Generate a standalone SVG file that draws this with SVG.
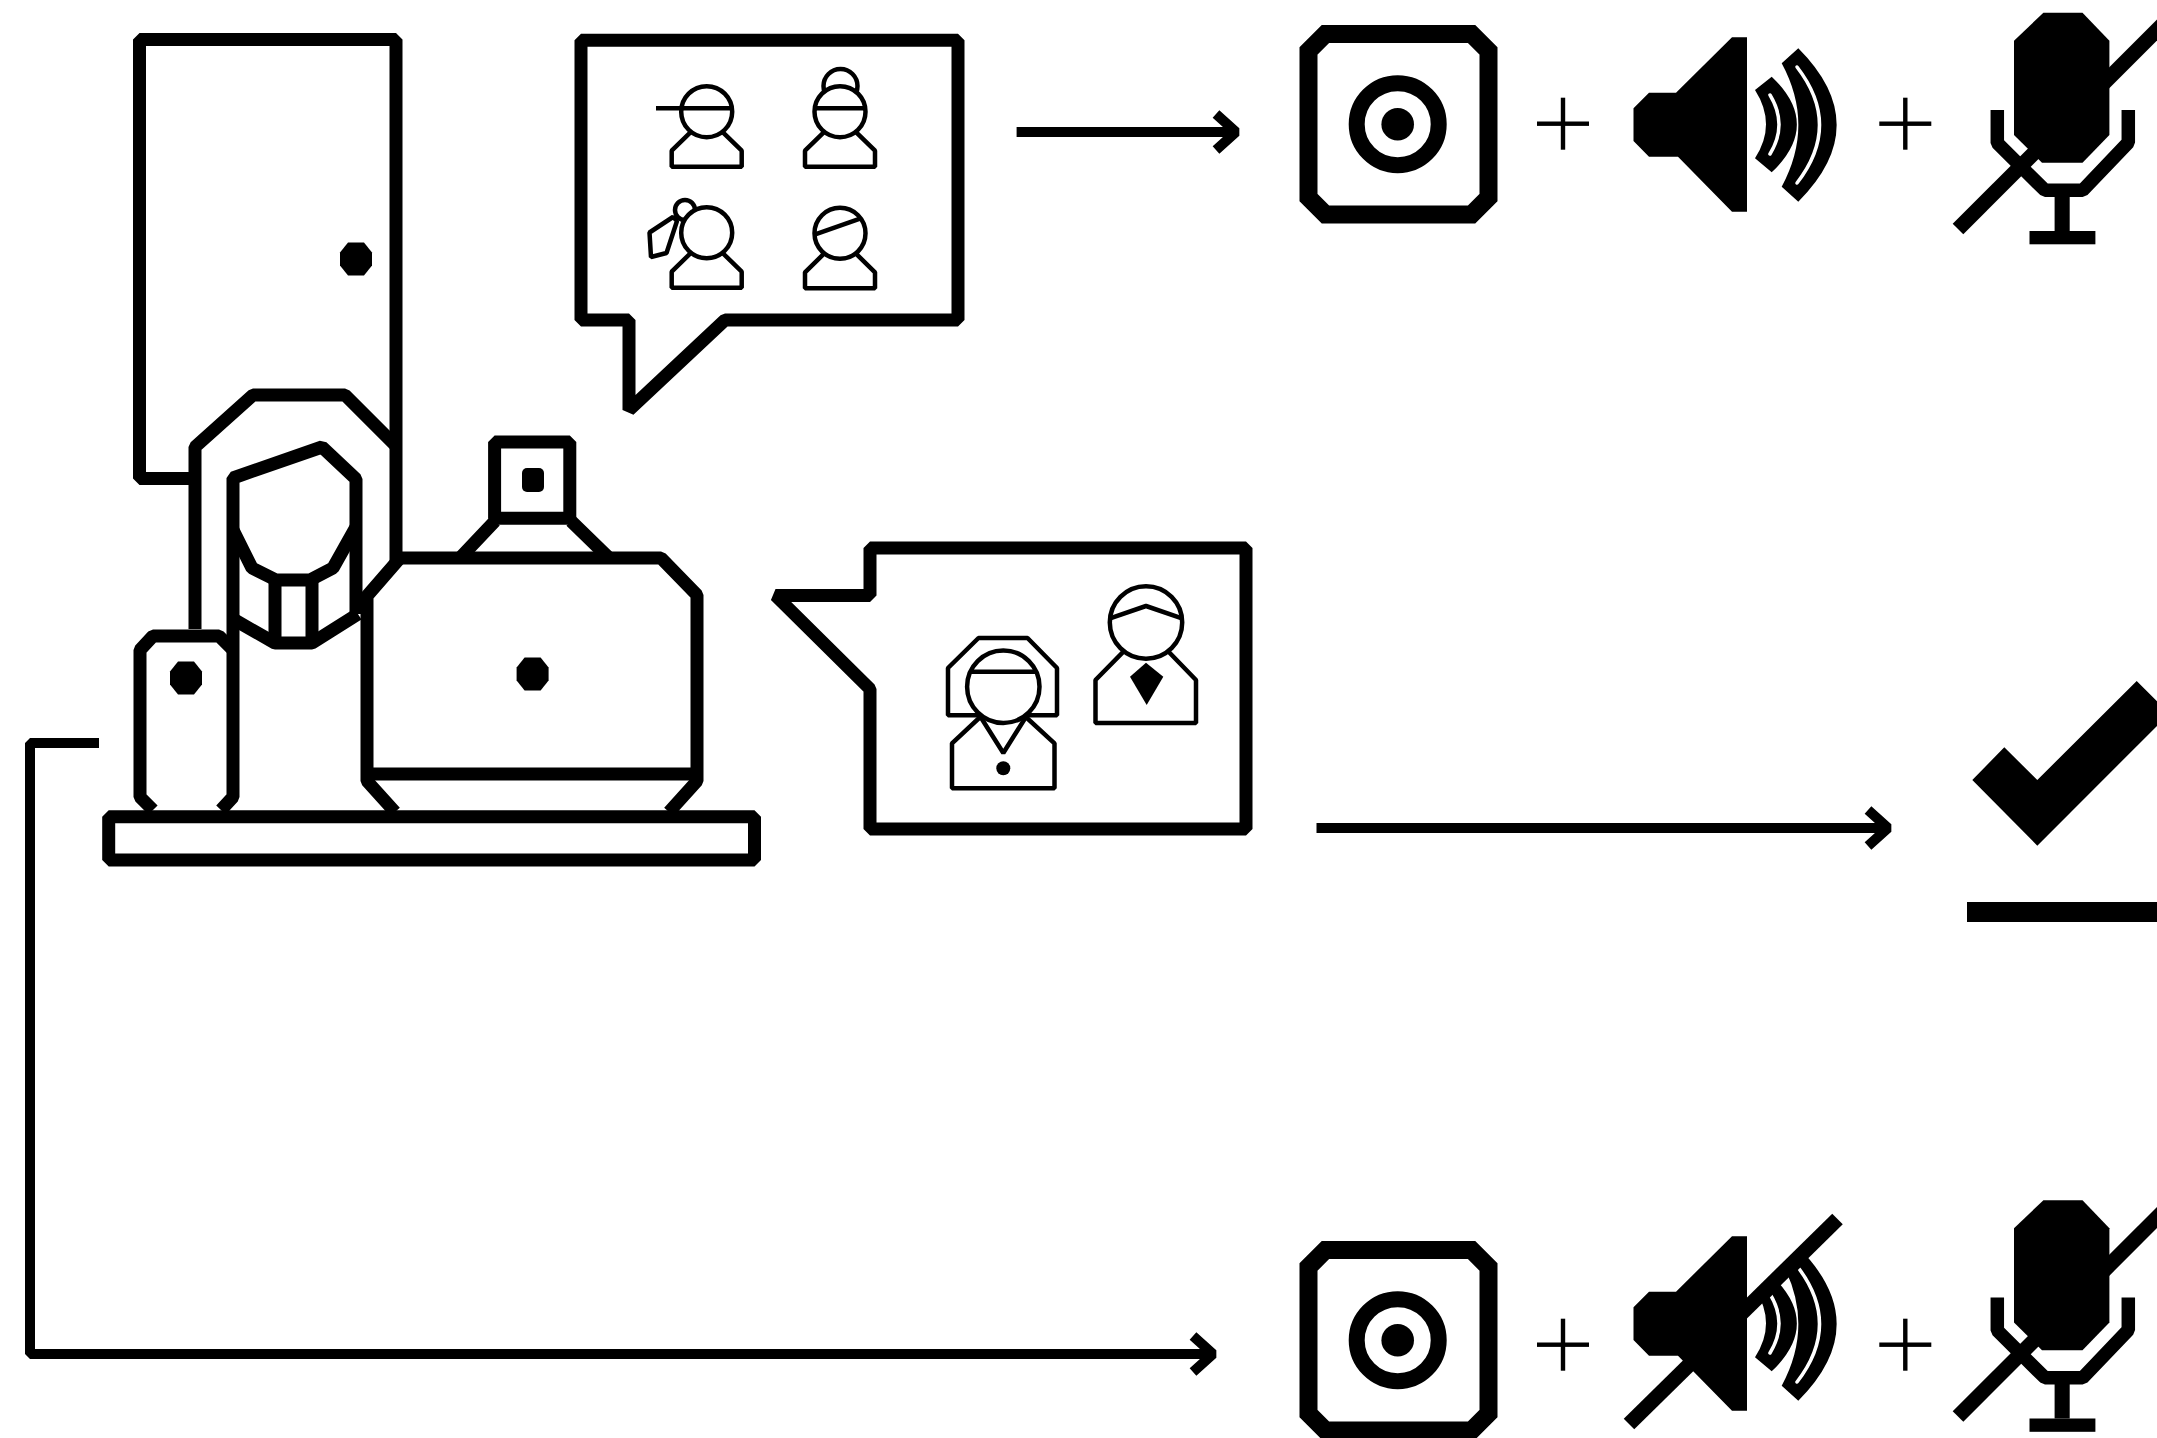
<svg xmlns="http://www.w3.org/2000/svg" xmlns:xlink="http://www.w3.org/1999/xlink" width="2157" height="1438" viewBox="0 0 2157 1438">
<style>
.k{fill:none;stroke:#000;stroke-width:13;stroke-linejoin:bevel;stroke-linecap:butt}
.t{fill:#fff;stroke:#000;stroke-width:4.5;stroke-linejoin:bevel}
.tl{fill:none;stroke:#000;stroke-width:4.5;stroke-linejoin:bevel}
.f{fill:#000;stroke:none}
.conn{fill:none;stroke:#000;stroke-width:10;stroke-linejoin:bevel}
.slash{stroke:#000;stroke-width:15;stroke-linecap:butt}
.slit{fill:none;stroke:#fff;stroke-width:3.5;stroke-linecap:round}
</style>
<defs>
  <!-- small octagonal dot (knobs, buttons) -->
  <path id="oct" class="f" d="M-8,-16.5 L8,-16.5 L16,-6.5 L16,6.5 L8,16.5 L-8,16.5 L-16,6.5 L-16,-6.5 Z"/>
  <!-- open chevron arrowhead -->
  <marker id="chev" markerUnits="userSpaceOnUse" viewBox="-25 -25 30 50" markerWidth="30" markerHeight="50" refX="0" refY="0" orient="auto" overflow="visible">
    <path d="M-20,-18 L0,0 L-20,18" fill="none" stroke="#000" stroke-width="10" stroke-linejoin="bevel"/>
  </marker>
  <!-- participant bust, head centred on origin -->
  <g id="bust">
    <path class="t" d="M-14.2,18.6 L-35,39 L-35,55 L35,55 L35,39 L14.2,18.6"/>
    <circle class="t" cx="0" cy="0" r="25.5"/>
  </g>
  <!-- camera / screen tile -->
  <g id="cam-tile">
    <path d="M1325.5,34 L1471.5,34 L1488.5,51 L1488.5,197.5 L1471.5,214.5 L1325.5,214.5 L1308.5,197.5 L1308.5,51 Z" fill="none" stroke="#000" stroke-width="18"/>
    <circle cx="1397.7" cy="124.2" r="41" fill="none" stroke="#000" stroke-width="16"/>
    <circle cx="1397.7" cy="124.2" r="16.3" class="f"/>
  </g>
  <!-- loudspeaker -->
  <polygon id="spk-body" class="f" points="1633.5,108.3 1649,92.7 1676,92.7 1732,37.3 1747,37.3 1747,211.7 1732,211.7 1678,156.7 1649,156.7 1633.5,141"/>
  <g id="spk-waves">
    <path class="f" d="M1755,90 L1771.7,76.7 Q1822,124.5 1771.7,172.3 L1755,158.3 Q1777,124.5 1755,90 Z"/>
    <path class="f" d="M1781.7,63.3 L1798.3,48.3 Q1875,125 1798.3,201.7 L1781.7,186.7 Q1815,125 1781.7,63.3 Z"/>
  </g>
  <g id="spk-slits">
    <path class="slit" d="M1770,95 Q1788,124.5 1770,154"/>
    <path class="slit" d="M1797,67 Q1842,125 1797,183"/>
  </g>
  <!-- muted microphone -->
  <g id="mic-muted">
    <polygon class="f" points="2043.4,12.7 2082.5,12.7 2109.4,40.7 2109.4,135 2082.5,162.7 2042,162.7 2014,135 2014,40.7"/>
    <path d="M1997.3,110 L1997.3,143 L2045,190.3 L2082.6,190.3 L2128.3,142.5 L2128.3,110" fill="none" stroke="#000" stroke-width="13.5" stroke-linejoin="bevel"/>
    <rect class="f" x="2054.6" y="190" width="15.1" height="41"/>
    <rect class="f" x="2029.5" y="231" width="65.9" height="13.3"/>
    <line class="slash" x1="1958" y1="229" x2="2185" y2="2"/>
  </g>
  <!-- plus sign centred on origin -->
  <g id="plus">
    <rect class="f" x="-26" y="-2.2" width="52" height="4.4"/>
    <rect class="f" x="-2.2" y="-26" width="4.4" height="52"/>
  </g>
  <clipPath id="waveclip"><polygon points="1740,115.9 1900,-41.4 1900,260 1740,260"/></clipPath>
  <clipPath id="slitclip"><polygon points="1740,127.9 1900,-29.4 1900,260 1740,260"/></clipPath>
</defs>

<rect width="2157" height="1438" fill="#fff"/>

<!-- home office: door, person in hood, laptop with webcam, desk -->
<g id="remote-worker">
  <path class="k" d="M195,478.5 L139.5,478.5 L139.5,39.5 L396,39.5 L396,561"/>
  <use xlink:href="#oct" href="#oct" x="356" y="259"/>
  <path class="k" d="M195,629 L195,447 L253,395 L345,395 L396,446"/>
  <path class="k" d="M221,810 L233,797 L233,478 L322,447 L356,479 L356,614"/>
  <path class="k" d="M233,530 L252,568 L276,580 L310,580 L333,568 L356,527"/>
  <path class="k" d="M275,580 L275,643 M312,580 L312,643"/>
  <path class="k" d="M233,619 L275,643 L312,643 L358,614"/>
  <path class="k" d="M153,810 L140,797 L140,650 L153,636 L219,636 L233,650"/>
  <use xlink:href="#oct" href="#oct" x="186" y="678"/>
  <path class="k" d="M396,558 L661,558 L697,595 L697,781 L669,812"/>
  <path class="k" d="M400,558 L367,596 L367,781 L395,812"/>
  <path class="k" d="M367,774 L697,774"/>
  <path class="k" d="M494.6,442 L569.8,442 L569.8,518.3 L494.6,518.3 Z"/>
  <path class="k" d="M495,521 L460,558 M571,521 L609,558"/>
  <rect class="f" x="522" y="468" width="22" height="24" rx="5"/>
  <use xlink:href="#oct" href="#oct" x="532.6" y="674"/>
  <path class="k" d="M108.7,816.7 L754.5,816.7 L754.5,860 L108.7,860 Z"/>
</g>

<!-- speech bubble: group call with four participants -->
<g id="bubble-group-call">
  <path class="k" d="M581,40.3 L958,40.3 L958,320 L725,320 L629,410 L629,320 L581,320 Z"/>
  <use xlink:href="#bust" href="#bust" x="706.7" y="111.7"/>
  <line class="tl" x1="656" y1="108.3" x2="732" y2="108.3"/>
  <circle class="t" cx="840.5" cy="86" r="17"/>
  <use xlink:href="#bust" href="#bust" x="840" y="111.7"/>
  <line class="tl" x1="814.7" y1="108.3" x2="865.3" y2="108.3"/>
  <polygon class="t" points="673,217 649.5,232.5 651,257 666.5,253 677,221"/>
  <circle class="t" cx="685" cy="210" r="10"/>
  <use xlink:href="#bust" href="#bust" x="706.7" y="232.7"/>
  <use xlink:href="#bust" href="#bust" x="840" y="233.3"/>
  <line class="tl" x1="814.5" y1="234.6" x2="860.1" y2="218.7"/>
</g>

<!-- speech bubble: nurse and doctor -->
<g id="bubble-care-team">
  <path class="k" d="M870,548 L1246,548 L1246,829 L870,829 L870,689 L775.5,595.5 L870,595.5 Z"/>
  <path class="t" d="M948,715.3 L948,668 L978.5,638 L1027.5,638 L1057,668 L1057,715.3 Z"/>
  <path class="t" d="M984.5,713 L952,743.3 L952,788.3 L1054.5,788.3 L1054.5,743.3 L1021.5,713"/>
  <circle class="t" cx="1003.3" cy="686.7" r="36.2"/>
  <line class="tl" x1="970.4" y1="671.7" x2="1036.2" y2="671.7"/>
  <path class="tl" d="M980,716 L1003.3,753 L1026.5,716"/>
  <circle class="f" cx="1003.3" cy="768.3" r="7"/>
  <path class="t" d="M1129.6,645.3 L1095.5,680 L1095.5,723 L1196,723 L1196,680 L1162.3,645.3"/>
  <circle class="t" cx="1146" cy="622.5" r="36.2"/>
  <path class="tl" d="M1110,618.3 L1146,606 L1182,618.3"/>
  <path class="f" d="M1146,662.7 L1163.3,676.7 L1146.7,705 L1130,676.7 Z"/>
</g>

<!-- outcome: camera on, speaker on, microphone muted -->
<g id="settings-listen">
  <use xlink:href="#cam-tile" href="#cam-tile"/>
  <use xlink:href="#plus" href="#plus" x="1563" y="123.7"/>
  <use xlink:href="#spk-body" href="#spk-body"/>
  <use xlink:href="#spk-waves" href="#spk-waves"/>
  <use xlink:href="#spk-slits" href="#spk-slits"/>
  <use xlink:href="#plus" href="#plus" x="1905.3" y="123.7"/>
  <use xlink:href="#mic-muted" href="#mic-muted"/>
</g>

<!-- outcome: confirmed -->
<g id="confirmed">
  <polygon class="f" points="1972.3,780 2004.3,747.3 2037.3,780 2136.7,681 2169.3,713.6 2037.3,845.7"/>
  <rect class="f" x="1967" y="902" width="200" height="20"/>
</g>

<!-- outcome: camera on, speaker muted, microphone muted -->
<g id="settings-silent">
  <g transform="translate(0,1216)"><use xlink:href="#cam-tile" href="#cam-tile"/></g>
  <use xlink:href="#plus" href="#plus" x="1563" y="1344.7"/>
  <g transform="translate(0,1199)">
    <use xlink:href="#spk-body" href="#spk-body"/>
    <g clip-path="url(#waveclip)"><use xlink:href="#spk-waves" href="#spk-waves"/></g>
    <g clip-path="url(#slitclip)"><use xlink:href="#spk-slits" href="#spk-slits"/></g>
    <line class="slash" x1="1629" y1="225" x2="1837.5" y2="20"/>
  </g>
  <use xlink:href="#plus" href="#plus" x="1905.3" y="1344.7"/>
  <g transform="translate(0,1187.5)"><use xlink:href="#mic-muted" href="#mic-muted"/></g>
</g>

<g id="connectors">
  <path class="conn" marker-end="url(#chev)" d="M1016.6,132 L1236,132"/>
  <path class="conn" marker-end="url(#chev)" d="M1316.5,828 L1888,828"/>
  <path class="conn" marker-end="url(#chev)" d="M99,743 L30,743 L30,1354 L1213,1354"/>
</g>
</svg>
